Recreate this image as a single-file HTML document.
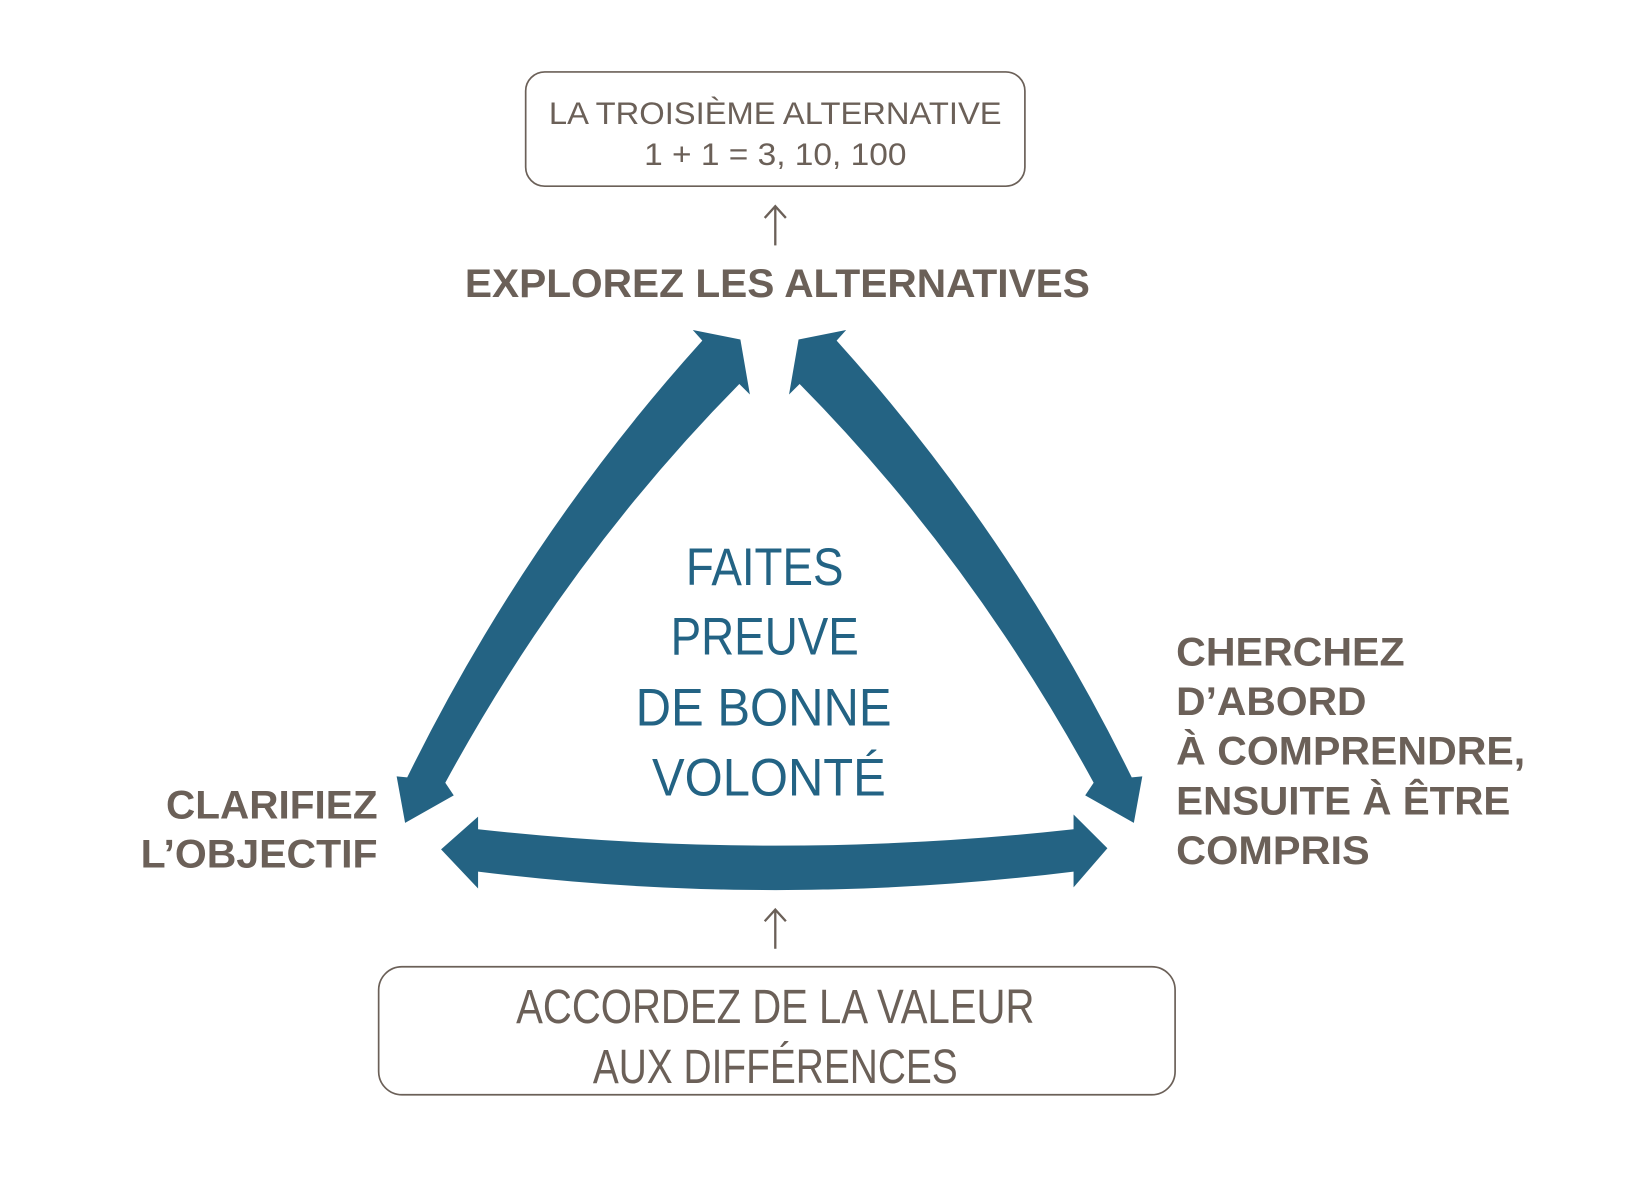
<!DOCTYPE html>
<html><head><meta charset="utf-8"><style>
html,body{margin:0;padding:0;background:#fff;}
svg{display:block;}
text{font-family:"Liberation Sans",sans-serif;}
.g{fill:#6b6058;}
.b{fill:#236384;font-family:"Liberation Sans Narrow","Liberation Sans",sans-serif;}
</style></head><body>
<svg width="1650" height="1200" viewBox="0 0 1560 1134.5" xmlns="http://www.w3.org/2000/svg">
<rect x="0" y="0" width="1560" height="1134.5" fill="#fff"/>
<g transform="translate(-3,-3)">
<rect x="500" y="71" width="472" height="108" rx="18" fill="none" stroke="#6b6058" stroke-width="1.6"/>
<text class="g" x="736" y="120" font-size="30" text-anchor="middle" textLength="428" lengthAdjust="spacingAndGlyphs">LA TROISIÈME ALTERNATIVE</text>
<text class="g" x="736" y="159" font-size="30" text-anchor="middle" textLength="248" lengthAdjust="spacingAndGlyphs">1 + 1 = 3, 10, 100</text>
<g stroke="#6b6058" stroke-width="2.2" fill="none">
<line x1="736" y1="235" x2="736" y2="198"/><polyline points="726,209 736,198 746,209"/>
<line x1="736" y1="900" x2="736" y2="863"/><polyline points="726,874 736,863 746,874"/>
</g>
<text class="g" x="738" y="284" font-size="38" font-weight="bold" text-anchor="middle" textLength="591" lengthAdjust="spacingAndGlyphs">EXPLOREZ LES ALTERNATIVES</text>

<g fill="#246383">
<path d="M658,315 L703,324 L712,376 L702,366 Q540,530 424,743 L432,755 L386,781 L378,737 L388,738 Q500,510 667,325 Z"/>
<path transform="translate(1461,0) scale(-1,1)" d="M658,315 L703,324 L712,376 L702,366 Q540,530 424,743 L432,755 L386,781 L378,737 L388,738 Q500,510 667,325 Z"/>
<path d="M420,806 L455,775 L455,787 Q736,818 1018,787 L1018,773 L1050,805 L1018,842 L1018,827 Q736,862 455,827 L455,843 Z"/>
</g>

<text class="b" x="726" y="556" font-size="50" text-anchor="middle" textLength="149" lengthAdjust="spacingAndGlyphs">FAITES</text>
<text class="b" x="726" y="622" font-size="50" text-anchor="middle" textLength="178" lengthAdjust="spacingAndGlyphs">PREUVE</text>
<text class="b" x="725" y="689" font-size="50" text-anchor="middle" textLength="242" lengthAdjust="spacingAndGlyphs">DE BONNE</text>
<text class="b" x="730" y="755" font-size="50" text-anchor="middle" textLength="221" lengthAdjust="spacingAndGlyphs">VOLONTÉ</text>

<text class="g" x="360" y="777" font-size="38" font-weight="bold" text-anchor="end" textLength="200" lengthAdjust="spacingAndGlyphs">CLARIFIEZ</text>
<text class="g" x="360" y="823" font-size="38" font-weight="bold" text-anchor="end" textLength="224" lengthAdjust="spacingAndGlyphs">L’OBJECTIF</text>

<text class="g" x="1115" y="632" font-size="38" font-weight="bold" textLength="216" lengthAdjust="spacingAndGlyphs">CHERCHEZ</text>
<text class="g" x="1115" y="679" font-size="38" font-weight="bold" textLength="180" lengthAdjust="spacingAndGlyphs">D’ABORD</text>
<text class="g" x="1115" y="726" font-size="38" font-weight="bold" textLength="330" lengthAdjust="spacingAndGlyphs">À COMPRENDRE,</text>
<text class="g" x="1115" y="773" font-size="38" font-weight="bold" textLength="316" lengthAdjust="spacingAndGlyphs">ENSUITE À ÊTRE</text>
<text class="g" x="1115" y="820" font-size="38" font-weight="bold" textLength="183" lengthAdjust="spacingAndGlyphs">COMPRIS</text>

<rect x="361" y="917" width="753" height="121" rx="22" fill="none" stroke="#6b6058" stroke-width="1.6"/>
<text class="g" x="736" y="970" font-size="46" text-anchor="middle" font-family="Liberation Sans Narrow, Liberation Sans, sans-serif" textLength="490" lengthAdjust="spacingAndGlyphs">ACCORDEZ DE LA VALEUR</text>
<text class="g" x="736" y="1027" font-size="46" text-anchor="middle" font-family="Liberation Sans Narrow, Liberation Sans, sans-serif" textLength="345" lengthAdjust="spacingAndGlyphs">AUX DIFFÉRENCES</text>
</g>
</svg>
</body></html>
